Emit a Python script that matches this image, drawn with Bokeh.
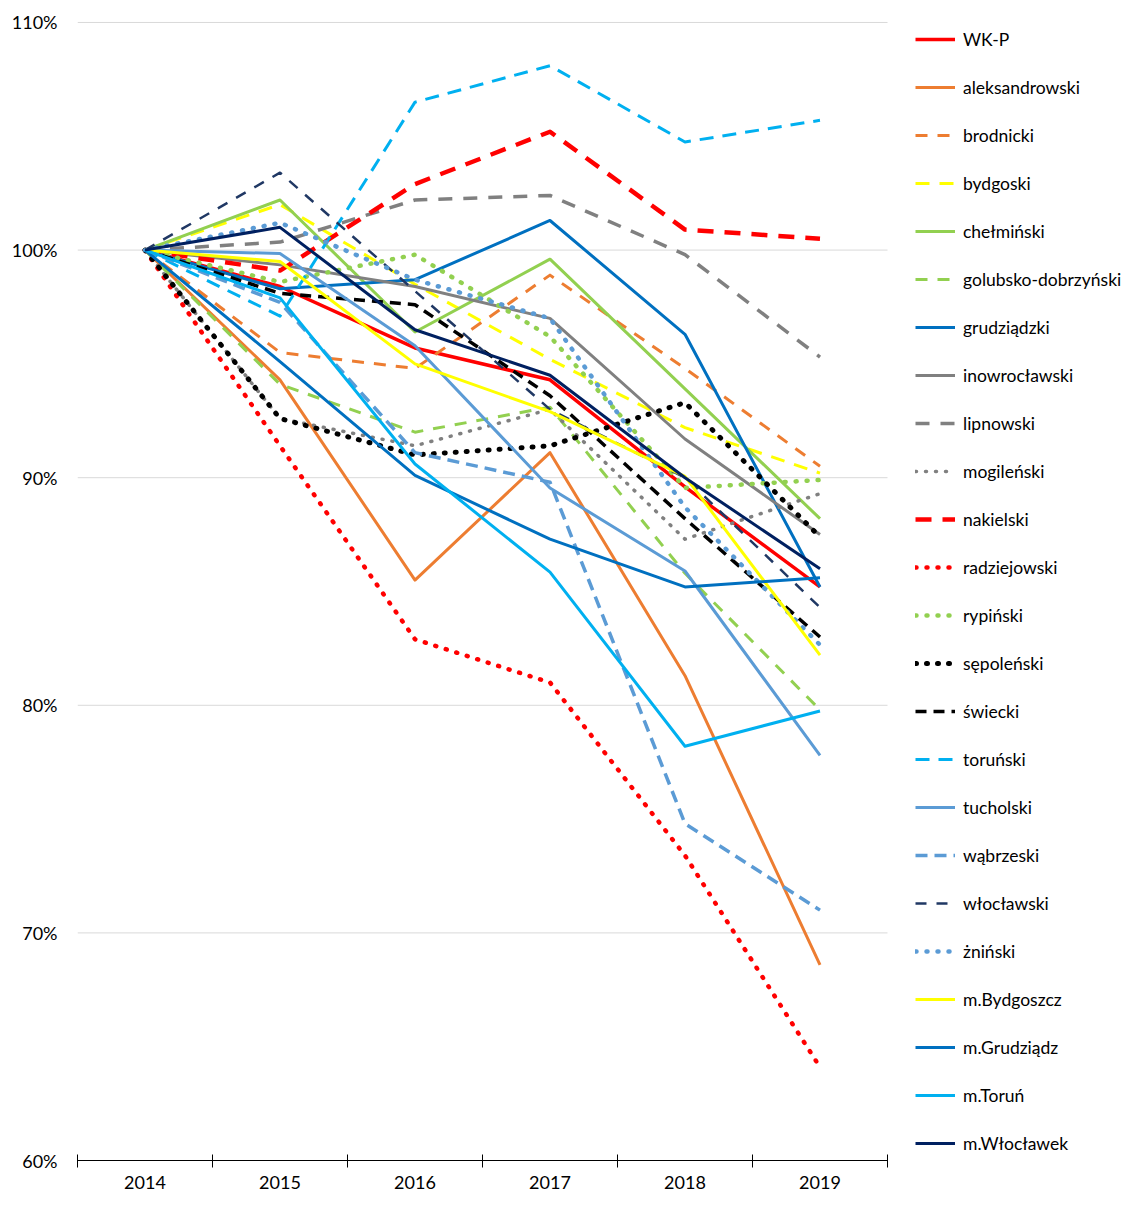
from bokeh.plotting import figure
from bokeh.models import Legend, LegendItem, FixedTicker, Range1d
from bokeh.embed import file_html
from bokeh.resources import INLINE

years = ["2014", "2015", "2016", "2017", "2018", "2019"]
y_ticks = [60, 70, 80, 90, 100, 110]

WK_P = [100, 98.4, 95.7, 94.3, 89.6, 85.2]
aleksandrowski = [100, 94.3, 85.5, 91.1, 81.3, 68.6]
brodnicki = [100, 95.5, 94.8, 98.9, 94.8, 90.5]
bydgoski = [100, 102.0, 98.5, 95.2, 92.2, 90.2]
chelminski = [100, 102.2, 96.4, 99.6, 93.9, 88.2]
golubsko_dobrzynski = [100, 94.1, 92.0, 93.1, 85.8, 79.8]
grudziadzki = [100, 98.3, 98.7, 101.3, 96.3, 85.2]
inowroclawski = [100, 99.35, 98.4, 97.0, 91.7, 87.5]
lipnowski = [100, 100.35, 102.2, 102.4, 99.8, 95.3]
mogilenski = [100, 92.6, 91.4, 93.0, 87.3, 89.3]
nakielski = [100, 99.1, 102.9, 105.2, 100.9, 100.5]
radziejowski = [100, 91.4, 82.9, 81.0, 73.4, 64.1]
rypinski = [100, 98.6, 99.8, 96.2, 89.55, 89.9]
sepolenski = [100, 92.6, 91.0, 91.4, 93.3, 87.4]
swiecki = [100, 98.1, 97.6, 93.6, 88.2, 83.0]
torunski = [100, 97.1, 106.5, 108.1, 104.75, 105.7]
tucholski = [100, 99.85, 95.8, 89.55, 85.9, 77.8]
wabrzeski = [100, 97.7, 91.1, 89.8, 74.8, 71.0]
wloclawski = [100, 103.4, 98.2, 93.0, 90.0, 84.3]
zninski = [100, 101.2, 98.7, 97.0, 88.7, 82.65]
m_bydgoszcz = [100, 99.5, 95.0, 92.9, 90.06, 82.2]
m_grudziadz = [100, 95.1, 90.1, 87.3, 85.2, 85.6]
m_torun = [100, 97.9, 90.6, 85.85, 78.2, 79.75]
m_wloclawek = [100, 101.0, 96.5, 94.5, 90.0, 86.0]

series = [
    ("WK-P", WK_P, "#FF0000", "solid", 3.5),
    ("aleksandrowski", aleksandrowski, "#ED7D31", "solid", 3),
    ("brodnicki", brodnicki, "#ED7D31", "12 10", 3),
    ("bydgoski", bydgoski, "#FFFF00", "14 10", 3),
    ("chełmiński", chelminski, "#92D050", "solid", 3),
    ("golubsko-dobrzyński", golubsko_dobrzynski, "#92D050", "12 10", 3),
    ("grudziądzki", grudziadzki, "#0070C0", "solid", 3),
    ("inowrocławski", inowroclawski, "#808080", "solid", 3),
    ("lipnowski", lipnowski, "#808080", "14 11", 3.5),
    ("mogileński", mogilenski, "#808080", "1 9", 3.5),
    ("nakielski", nakielski, "#FF0000", "16 11", 4.5),
    ("radziejowski", radziejowski, "#FF0000", "1 10", 4.5),
    ("rypiński", rypinski, "#92D050", "1 10", 4.5),
    ("sępoleński", sepolenski, "#000000", "1 10", 5),
    ("świecki", swiecki, "#000000", "11 7", 3.5),
    ("toruński", torunski, "#00B0F0", "14 9", 3),
    ("tucholski", tucholski, "#5B9BD5", "solid", 3),
    ("wąbrzeski", wabrzeski, "#5B9BD5", "12 7", 3.5),
    ("włocławski", wloclawski, "#203864", "11 10", 2.5),
    ("żniński", zninski, "#5B9BD5", "1 10", 4.5),
    ("m.Bydgoszcz", m_bydgoszcz, "#FFFF00", "solid", 3),
    ("m.Grudziądz", m_grudziadz, "#0070C0", "solid", 3),
    ("m.Toruń", m_torun, "#00B0F0", "solid", 3),
    ("m.Włocławek", m_wloclawek, "#002060", "solid", 3),
]

# layout (pixels)
W, H = 1125, 1191
LEFT = 77            # frame left = x of category boundary before 2014
CAT_PX = 135         # pixels per category
BOTTOM_BORDER = 30   # room for x labels
TOP_LINE = 22        # pixel row of the 110% gridline
frame_bottom = H - BOTTOM_BORDER
ppu = (frame_bottom - TOP_LINE) / (y_ticks[-1] - y_ticks[0])
y_end = y_ticks[-1] + TOP_LINE / ppu
x_end = (W - LEFT) / CAT_PX

xs = [i + 0.5 for i in range(len(years))]

p = figure(width=W, height=H, output_backend="svg", toolbar_location=None,
           x_range=Range1d(0, x_end), y_range=Range1d(y_ticks[0], y_end),
           min_border_left=LEFT, min_border_right=0, min_border_top=0,
           min_border_bottom=BOTTOM_BORDER)
p.outline_line_color = None
p.background_fill_color = "white"
p.border_fill_color = "white"

# horizontal gridlines over the category area only
p.segment(x0=[0] * len(y_ticks), x1=[len(years)] * len(y_ticks),
          y0=y_ticks, y1=y_ticks, line_color="#D9D9D9", line_width=1)

items = []
for name, vals, col, dash, w in series:
    cap = "round" if dash.startswith("1 ") else "butt"
    r = p.line(xs, vals, line_color=col, line_width=w, line_dash=dash,
               line_cap=cap, line_join="round")
    items.append(LegendItem(label=name, renderers=[r]))

FONT = "Lato"

# y axis
p.yaxis.ticker = FixedTicker(ticks=y_ticks)
p.yaxis.major_label_overrides = {t: f"{t}%" for t in y_ticks}
p.yaxis.axis_line_color = None
p.yaxis.major_tick_line_color = None
p.yaxis.major_tick_out = 0
p.yaxis.major_tick_in = 0
p.yaxis.minor_tick_line_color = None
p.yaxis.major_label_standoff = 20
p.yaxis.major_label_text_font = FONT
p.yaxis.major_label_text_font_size = "18px"
p.yaxis.major_label_text_color = "#000000"
p.xgrid.grid_line_color = None
p.ygrid.grid_line_color = None

# x axis: labels at category centres, ticks at boundaries
p.xaxis.bounds = (0, len(years))
p.xaxis.ticker = FixedTicker(ticks=xs, minor_ticks=list(range(len(years) + 1)))
p.xaxis.major_label_overrides = {x: y for x, y in zip(xs, years)}
p.xaxis.major_tick_line_color = None
p.xaxis.major_tick_out = 0
p.xaxis.major_tick_in = 0
p.xaxis.minor_tick_line_color = "#000000"
p.xaxis.minor_tick_in = 6
p.xaxis.minor_tick_out = 7
p.xaxis.axis_line_color = "#000000"
p.xaxis.axis_line_width = 1
p.xaxis.major_label_standoff = 8
p.xaxis.major_label_text_font = FONT
p.xaxis.major_label_text_font_size = "18px"
p.xaxis.major_label_text_color = "#000000"

n = len(items)
item_h, gap = 22, 26
legend_h = n * item_h + (n - 1) * gap
legend_top = 29
legend = Legend(items=items,
                location=(915 - LEFT, frame_bottom - legend_top - legend_h),
                margin=0, padding=0, spacing=gap,
                glyph_width=40, glyph_height=item_h, label_height=item_h,
                label_standoff=8, border_line_color=None,
                background_fill_alpha=0, label_text_font=FONT,
                label_text_font_size="17.5px", label_text_color="#000000")
p.add_layout(legend, "center")

open("out.html", "w").write(file_html(p, INLINE))
